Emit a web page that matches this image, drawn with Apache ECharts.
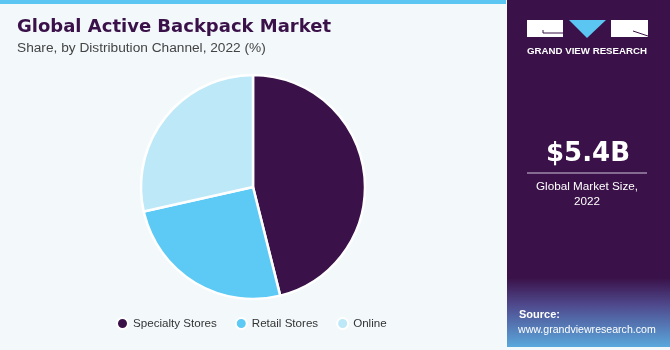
<!DOCTYPE html>
<html><head><meta charset="utf-8">
<script src="https://cdn.jsdelivr.net/npm/echarts@6/dist/echarts.min.js"></script>
<style>html,body{margin:0;padding:0;background:#f3f8fb;}#c{width:670px;height:350px;}</style>
</head><body><div id="c"></div>
<script>
const categories = ['Specialty Stores', 'Retail Stores', 'Online'];
const shares = [46.1, 25.4, 28.5];
const colors = ['#3a1148', '#5ccaf5', '#bde8f8'];
const titleText = 'Global Active Backpack Market';
const subtitleText = 'Share, by Distribution Channel, 2022 (%)';
const marketSize = '$5.4B';
const marketLabel = 'Global Market Size,\n2022';

const chart = echarts.init(document.getElementById('c'), null, {renderer: 'canvas'});
const font = 'Liberation Sans, Arial, sans-serif';
const heavy = 'DejaVu Sans, sans-serif';
chart.setOption({
  backgroundColor: '#f3f8fb',
  animation: false,
  color: colors,
  title: [
    {text: titleText, left: 17, top: 18, padding: 0, textStyle: {fontFamily: heavy, fontSize: 18, fontWeight: 'bold', color: '#3a1148'}},
    {text: subtitleText, left: 17, top: 41, padding: 0, textStyle: {fontFamily: font, fontSize: 13.7, fontWeight: 'normal', color: '#444'}}
  ],
  legend: {
    data: categories, left: 116, top: 317, padding: 0, icon: 'circle', itemWidth: 11, itemHeight: 11, itemGap: 18,
    textStyle: {fontFamily: font, fontSize: 11.6, color: '#333'}
  },
  series: [{
    type: 'pie', center: [253, 187], radius: [0, 112], startAngle: 90, clockwise: true,
    label: {show: false}, labelLine: {show: false},
    itemStyle: {borderColor: '#ffffff', borderWidth: 2.5},
    data: categories.map((c, i) => ({name: c, value: shares[i]}))
  }],
  graphic: [
    {type: 'rect', shape: {x: 0, y: 0, width: 506, height: 4}, style: {fill: '#5cc6f2'}},
    {type: 'rect', shape: {x: 507, y: 0, width: 163, height: 347}, style: {
      fill: new echarts.graphic.LinearGradient(0, 0, 0, 1, [
        {offset: 0, color: '#3a1148'}, {offset: 0.8, color: '#3a1148'},
        {offset: 0.88, color: '#4f4a8e'}, {offset: 1, color: '#5aa8dc'}])}},
    {type: 'rect', shape: {x: 527, y: 20, width: 36, height: 17}, style: {fill: '#ffffff'}},
    {type: 'polyline', shape: {points: [[543, 30], [543, 33], [563, 33]]}, style: {stroke: '#3a1148', lineWidth: 1, fill: null}},
    {type: 'polygon', shape: {points: [[569, 20], [606, 20], [587, 38]]}, style: {fill: '#5cc6f2'}},
    {type: 'rect', shape: {x: 611, y: 20, width: 37, height: 17}, style: {fill: '#ffffff'}},
    {type: 'line', shape: {x1: 633, y1: 31, x2: 648, y2: 36}, style: {stroke: '#3a1148', lineWidth: 1}},
    {type: 'text', x: 587, y: 51, style: {text: 'GRAND VIEW RESEARCH', fontFamily: font, fontSize: 9.7, fontWeight: 'bold', fill: '#ffffff', align: 'center', verticalAlign: 'middle'}},
    {type: 'text', x: 588, y: 154, style: {text: marketSize, fontFamily: heavy, fontSize: 26, fontWeight: 'bold', fill: '#ffffff', align: 'center', verticalAlign: 'middle'}},
    {type: 'line', shape: {x1: 527, y1: 173, x2: 647, y2: 173}, style: {stroke: '#cfc6dc', lineWidth: 1}},
    {type: 'text', x: 587, y: 194, style: {text: marketLabel, fontFamily: font, fontSize: 11.7, fill: '#ffffff', align: 'center', verticalAlign: 'middle', lineHeight: 15}},
    {type: 'text', x: 519, y: 315, style: {text: 'Source:', fontFamily: font, fontSize: 11, fontWeight: 'bold', fill: '#ffffff', verticalAlign: 'middle'}},
    {type: 'text', x: 518, y: 330, style: {text: 'www.grandviewresearch.com', fontFamily: font, fontSize: 10.6, fill: '#ffffff', verticalAlign: 'middle'}}
  ]
});
</script></body></html>
